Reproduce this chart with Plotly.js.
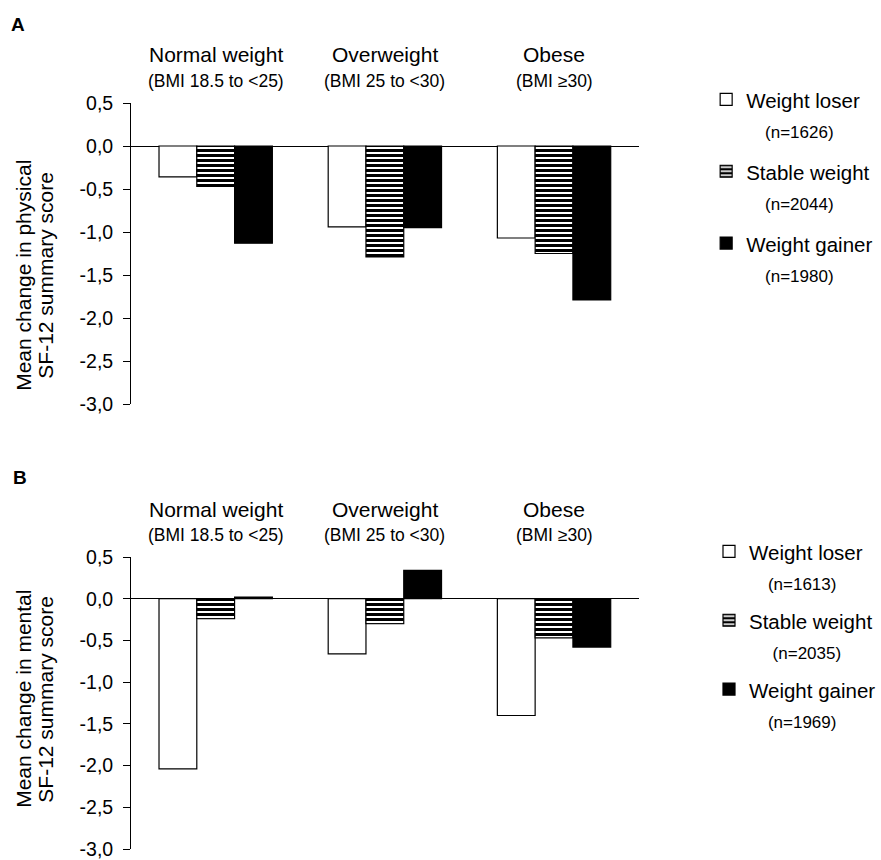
<!DOCTYPE html>
<html>
<head>
<meta charset="utf-8">
<script src="https://cdn.plot.ly/plotly-3.0.1.min.js"></script>
<style>html,body{margin:0;padding:0;background:#fff;}</style>
</head>
<body>
<div id="chart" style="width:881px;height:860px;"></div>
<script>
// ---- data ----
const categories = ['Normal weight', 'Overweight', 'Obese'];
const categorySub = ['(BMI 18.5 to <25)', '(BMI 25 to <30)', '(BMI \u226530)'];
const seriesNames = ['Weight loser', 'Stable weight', 'Weight gainer'];

const physicalLoser  = [-0.36, -0.94, -1.07];
const physicalStable = [-0.47, -1.29, -1.25];
const physicalGainer = [-1.13, -0.95, -1.79];
const physicalN = [1626, 2044, 1980];

const mentalLoser  = [-2.04, -0.66, -1.40];
const mentalStable = [-0.24, -0.30, -0.47];
const mentalGainer = [0.02, 0.34, -0.58];
const mentalN = [1613, 2035, 1969];

const tickValues = [0.5, 0, -0.5, -1, -1.5, -2, -2.5, -3];
const tickLabels = ['0,5', '0,0', '-0,5', '-1,0', '-1,5', '-2,0', '-2,5', '-3,0'];

// ---- helpers ----
const W = 881, H = 860;
const fx = x => x / W;
const fy = y => 1 - y / H;
const FONT = 'Liberation Sans, Arial, sans-serif';
const NB = '\u00A0';

function legendText(name, n, indent) {
  return '<span style="font-size:20.5px">' + name + '</span><br>' +
         '<span style="font-size:17px">' + NB.repeat(indent) + '(n=' + n + ')</span>';
}

function makeTraces(vals, ns, xa, ya, leg, indents) {
  const styles = [
    {color: '#ffffff', line: {color: '#000', width: 1.2}},
    {color: '#ffffff', line: {color: '#000', width: 1.2},
     pattern: {shape: '-', fgcolor: '#000', bgcolor: '#fff', fgopacity: 1, size: 5, solidity: 0.6, fillmode: 'replace'}},
    {color: '#000000', line: {color: '#000', width: 1.2}}
  ];
  return vals.map((v, i) => ({
    type: 'bar',
    x: categories,
    y: v,
    name: legendText(seriesNames[i], ns[i], indents[i]),
    xaxis: xa, yaxis: ya,
    legend: leg,
    legendgroup: leg + i,
    marker: styles[i],
    hoverinfo: 'skip'
  }));
}

const traces = [].concat(
  makeTraces([physicalLoser, physicalStable, physicalGainer], physicalN, 'x', 'y', 'legend', [4, 4, 4]),
  makeTraces([mentalLoser, mentalStable, mentalGainer], mentalN, 'x2', 'y2', 'legend2', [4, 5, 4])
);

const xDomain = [fx(132), fx(643)];

function yAxis(domain) {
  return {
    domain: domain,
    range: [-3, 0.5],
    tickvals: tickValues,
    ticktext: tickLabels,
    ticks: 'outside', ticklen: 7, tickwidth: 1, tickcolor: '#000',
    showline: true, linecolor: '#000', linewidth: 1,
    showgrid: false,
    zeroline: true, zerolinecolor: '#000', zerolinewidth: 1,
    tickfont: {family: FONT, size: 19.5, color: '#000'},
    ticklabeloverflow: 'allow',
    ticklabelstandoff: 6,
    fixedrange: true
  };
}
function xAxis(domain, anchor) {
  return {
    domain: domain, anchor: anchor,
    type: 'category',
    showticklabels: false, ticks: '', showline: false, showgrid: false, zeroline: false,
    fixedrange: true
  };
}

const annotations = [];
// panel letters
annotations.push({xref: 'paper', yref: 'paper', x: fx(9), y: fy(24), xanchor: 'left', yanchor: 'middle',
  text: '<b>A</b>', showarrow: false, font: {family: FONT, size: 19, color: '#000'}});
annotations.push({xref: 'paper', yref: 'paper', x: fx(11), y: fy(477), xanchor: 'left', yanchor: 'middle',
  text: '<b>B</b>', showarrow: false, font: {family: FONT, size: 19, color: '#000'}});

// category headers
[['x', 'y domain'], ['x2', 'y2 domain']].forEach(([xr, yr]) => {
  categories.forEach((c, i) => {
    annotations.push({xref: xr, yref: yr, x: c, y: 1, yshift: 48, yanchor: 'middle',
      text: c, showarrow: false, font: {family: FONT, size: 21, color: '#000'}});
    annotations.push({xref: xr, yref: yr, x: c, y: 1, yshift: 22, yanchor: 'middle',
      text: categorySub[i], showarrow: false, font: {family: FONT, size: 17.5, color: '#000'}});
  });
});

// y axis titles (two lines each)
const yTitles = [
  {lines: ['Mean change in physical', 'SF-12 summary score'], cy: 275},
  {lines: ['Mean change in mental', 'SF-12 summary score'], cy: 699}
];
yTitles.forEach(t => {
  t.lines.forEach((ln, j) => {
    annotations.push({xref: 'paper', yref: 'paper', x: fx(j === 0 ? 23 : 45), y: fy(t.cy),
      xanchor: 'center', yanchor: 'middle', textangle: -90,
      text: ln, showarrow: false, font: {family: FONT, size: 21, color: '#000'}});
  });
});

const legendBase = {
  xanchor: 'left', yanchor: 'top',
  font: {family: FONT, size: 23, color: '#000'},
  bgcolor: 'rgba(0,0,0,0)', borderwidth: 0,
  valign: 'top', traceorder: 'grouped',
  itemclick: false, itemdoubleclick: false
};

const layout = {
  width: W, height: H,
  margin: {l: 0, r: 0, t: 0, b: 0, pad: 0},
  paper_bgcolor: '#fff', plot_bgcolor: '#fff',
  barmode: 'group', bargap: 0.33, bargroupgap: 0,
  showlegend: true,
  xaxis: xAxis(xDomain, 'y'),
  yaxis: yAxis([fy(404), fy(103)]),
  xaxis2: xAxis(xDomain, 'y2'),
  yaxis2: Object.assign(yAxis([fy(849), fy(557)]), {anchor: 'x2'}),
  legend: Object.assign({}, legendBase, {x: fx(711), y: fy(78), tracegroupgap: 9}),
  legend2: Object.assign({}, legendBase, {x: fx(714), y: fy(530), tracegroupgap: 6}),
  annotations: annotations
};

Plotly.newPlot('chart', traces, layout, {displayModeBar: false, staticPlot: true});
</script>
</body>
</html>
